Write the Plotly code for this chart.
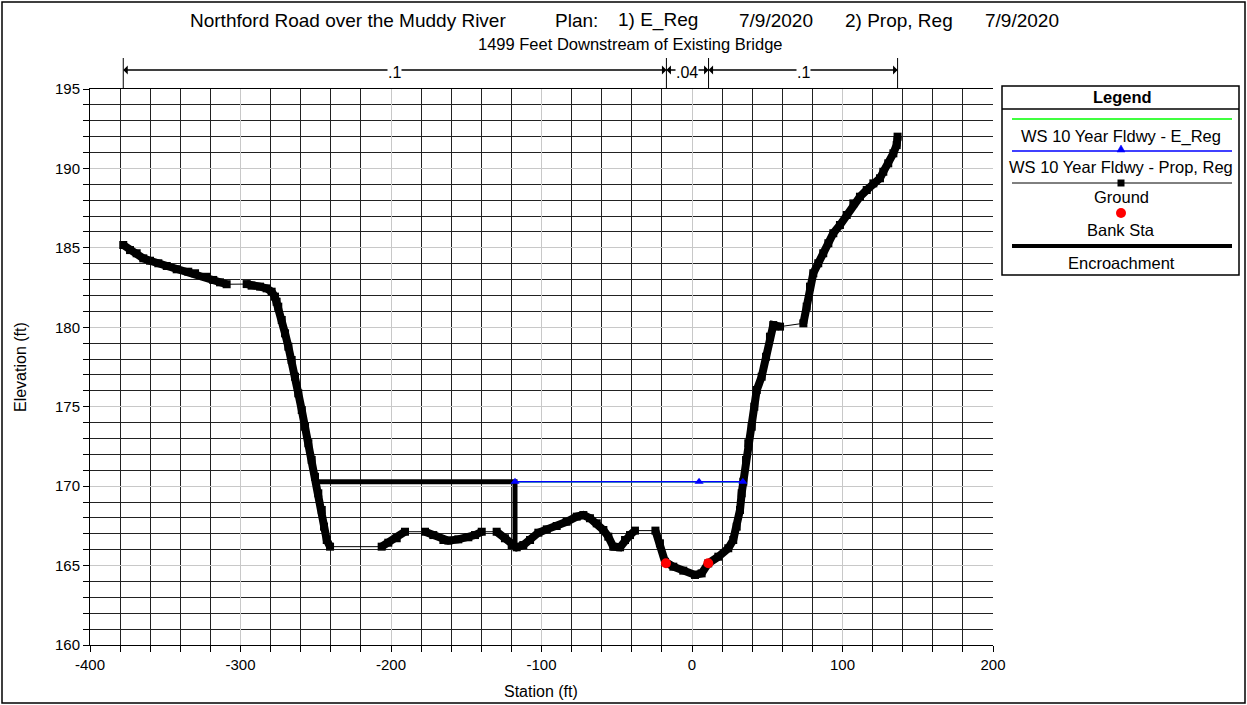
import plotly.graph_objects as go

# ---------------- data ----------------
ground_sta = [-377.9, -373.4, -369.0, -364.6, -360.1, -354.6, -349.0, -342.4, -334.7, -330.2,
              -322.5, -318.1, -313.6, -309.2, -295.9, -292.6, -287.0, -282.6, -279.3, -277.1,
              -276.0, -274.9, -272.6, -270.4, -268.2, -266.0, -263.8, -261.6, -259.3, -257.1,
              -254.9, -252.7, -250.5, -248.3, -246.0, -244.5, -242.7, -240.5, -206.2, -201.8,
              -196.2, -190.7, -177.4, -171.9, -165.2, -161.9, -155.3, -148.6, -144.2, -139.7,
              -129.8, -124.3, -119.8, -116.5, -112.1, -107.6, -102.1, -96.5, -89.9, -83.3,
              -76.6, -72.2, -67.8, -63.3, -58.9, -55.6, -52.3, -47.8, -44.5, -41.2,
              -37.9, -24.3, -21.3, -17.9, -12.4, -5.8, 2.0, 6.4, 10.8, 17.5,
              24.1, 27.4, 29.7, 31.9, 33.0, 34.1, 35.9, 37.4, 39.7, 41.4,
              43.0, 46.3, 49.2, 51.8, 54.0, 58.5, 74.0, 76.2, 78.4, 80.6,
              83.9, 87.2, 90.6, 93.9, 98.3, 102.8, 107.2, 111.6, 116.1, 120.5,
              124.9, 127.1, 130.4, 133.8, 136.0, 136.6]
ground_elev = [185.18, 184.86, 184.66, 184.34, 184.19, 184.03, 183.86, 183.65, 183.50, 183.40,
               183.18, 182.98, 182.83, 182.71, 182.72, 182.62, 182.56, 182.45, 182.24, 181.93,
               181.61, 181.30, 180.46, 179.62, 178.78, 177.94, 176.89, 175.84, 174.79, 173.74,
               172.70, 171.65, 170.59, 169.55, 168.50, 167.45, 166.61, 166.19, 166.19, 166.44,
               166.72, 167.13, 167.13, 166.92, 166.61, 166.57, 166.65, 166.78, 166.92, 167.13,
               167.13, 166.72, 166.29, 166.15, 166.29, 166.61, 167.07, 167.28, 167.49, 167.76,
               168.08, 168.18, 167.98, 167.66, 167.24, 166.82, 166.19, 166.15, 166.61, 166.92,
               167.20, 167.20, 166.40, 165.24, 164.93, 164.68, 164.41, 164.51, 165.14, 165.56,
               166.09, 166.61, 167.45, 168.50, 169.55, 170.28, 171.65, 172.70, 173.74, 175.00,
               176.05, 176.89, 178.15, 179.41, 180.14, 180.04, 180.25, 181.30, 182.56, 183.40,
               184.03, 184.66, 185.29, 185.92, 186.44, 187.07, 187.80, 188.22, 188.64, 189.06,
               189.38, 189.79, 190.32, 190.95, 191.47, 192.00]

ws_elev = 170.27
ws_eReg_sta = [-117.6, 4.7, 33.8]
ws_prop_sta = [-117.6, 4.7, 33.8]

encr_left_ground_sta = -248.3
encr_left_sta = -117.6
encr_ground_elev = 166.2

bank_sta = [-17.3, 10.8]
bank_elev = [165.15, 165.15]

n_break_sta = [-377.9, -17.0, 11.0, 136.6]
n_values = [".1", ".04", ".1"]

x_range = [-400, 200]
y_range = [160, 195]
x_tickvals = [-400, -300, -200, -100, 0, 100, 200]
x_ticktext = ["-400", "-300", "-200", "-100", "0", "100", "200"]

title_parts = ["Northford Road over the Muddy River", "Plan:", "1) E_Reg", "7/9/2020",
               "2) Prop, Reg", "7/9/2020"]
subtitle = "1499 Feet Downstream of Existing Bridge"
legend_labels = ["WS 10 Year Fldwy - E_Reg", "WS 10 Year Fldwy - Prop, Reg", "Ground",
                 "Bank Sta", "Encroachment"]

# ---------------- layout geometry ----------------
W, H = 1247, 705
PL, PR, PT, PB = 90, 993, 89, 645
FONT = "Liberation Sans, Arial, sans-serif"


def px(x):
    return x / W


def py(y):
    return 1 - y / H


fig = go.Figure()

# WS E_Reg (green, hidden under blue)
fig.add_trace(go.Scatter(x=ws_eReg_sta, y=[ws_elev] * len(ws_eReg_sta), mode="lines",
                         line=dict(color="#00ff00", width=1.5), showlegend=False))

# Encroachment
fig.add_trace(go.Scatter(x=[encr_left_ground_sta, encr_left_sta, encr_left_sta],
                         y=[ws_elev, ws_elev, encr_ground_elev], mode="lines",
                         line=dict(color="black", width=5), showlegend=False))

# Ground: thin connecting line
fig.add_trace(go.Scatter(x=ground_sta, y=ground_elev, mode="lines",
                         line=dict(color="black", width=1), showlegend=False))
# Ground: thick where points are dense
thick_x, thick_y = [], []
for i in range(len(ground_sta)):
    if i > 0 and abs(ground_sta[i] - ground_sta[i - 1]) > 8:
        thick_x.append(None)
        thick_y.append(None)
    thick_x.append(ground_sta[i])
    thick_y.append(ground_elev[i])
fig.add_trace(go.Scatter(x=thick_x, y=thick_y, mode="lines", connectgaps=False,
                         line=dict(color="black", width=8), showlegend=False))
fig.add_trace(go.Scatter(x=ground_sta, y=ground_elev, mode="markers",
                         marker=dict(symbol="square", size=8, color="black"),
                         showlegend=False))

# WS Prop, Reg (blue)
fig.add_trace(go.Scatter(x=ws_prop_sta, y=[ws_elev] * len(ws_prop_sta), mode="lines+markers",
                         line=dict(color="#0000ff", width=1.5),
                         marker=dict(symbol="triangle-up", size=8, color="#0000ff"),
                         showlegend=False))

# Bank stations
fig.add_trace(go.Scatter(x=bank_sta, y=bank_elev, mode="markers",
                         marker=dict(symbol="circle", size=10, color="#ff0000"),
                         showlegend=False))

fig.update_xaxes(range=x_range, domain=[px(PL), px(PR)], tickmode="array",
                 tickvals=x_tickvals, ticktext=x_ticktext,
                 showgrid=True, gridcolor="#c8c8c8", gridwidth=1,
                 ticks="outside", ticklen=6, tickcolor="black",
                 minor=dict(tick0=0, dtick=20, showgrid=True, gridcolor="#222222", gridwidth=1,
                            ticks="outside", ticklen=6, tickcolor="black"),
                 showline=True, linecolor="black", linewidth=1, mirror=True, zeroline=False,
                 tickfont=dict(family=FONT, size=15, color="black"))
fig.update_yaxes(range=y_range, domain=[py(PB), py(PT)], tickmode="linear", tick0=160, dtick=5,
                 showgrid=True, gridcolor="#c8c8c8", gridwidth=1,
                 ticks="outside", ticklen=6, tickcolor="black",
                 minor=dict(tick0=160, dtick=1, showgrid=True, gridcolor="#222222", gridwidth=1,
                            ticks="outside", ticklen=6, tickcolor="black"),
                 showline=True, linecolor="black", linewidth=1, mirror=False, zeroline=False,
                 tickfont=dict(family=FONT, size=15, color="black"))

shapes = []
annotations = []

# outer frame
shapes.append(dict(type="rect", xref="paper", yref="paper", x0=px(2), x1=px(1245), y0=py(703),
                   y1=py(2), line=dict(color="black", width=1.5)))

# titles
title_x = [188, 553, 616, 737, 843, 983]
for t, xx in zip(title_parts, title_x):
    annotations.append(dict(text=t, xref="paper", yref="paper", x=px(xx), y=py(20),
                            xanchor="left", yanchor="middle", showarrow=False,
                            font=dict(family=FONT, size=19, color="black")))
annotations.append(dict(text=subtitle, xref="paper", yref="paper", x=px(630), y=py(44),
                        xanchor="center", yanchor="middle", showarrow=False,
                        font=dict(family=FONT, size=16.5, color="black")))

# axis titles
annotations.append(dict(text="Elevation (ft)", xref="paper", yref="paper", x=px(20), y=py(367),
                        xanchor="center", yanchor="middle", textangle=-90, showarrow=False,
                        font=dict(family=FONT, size=16, color="black")))
annotations.append(dict(text="Station (ft)", xref="paper", yref="paper", x=px(541), y=py(691),
                        xanchor="center", yanchor="middle", showarrow=False,
                        font=dict(family=FONT, size=16, color="black")))

# Manning's n breaks
NY = 70
for s in n_break_sta:
    shapes.append(dict(type="line", xref="x", yref="paper", x0=s, x1=s, y0=py(58), y1=py(PT),
                       line=dict(color="black", width=1)))
for i, lab in enumerate(n_values):
    a, b = n_break_sta[i], n_break_sta[i + 1]
    c = (a + b) / 2
    for end in (a, b):
        annotations.append(dict(text="", x=end, y=py(NY), xref="x", yref="paper",
                                ax=c, ay=0, axref="x", ayref="pixel", showarrow=True,
                                arrowhead=1, arrowsize=1, arrowwidth=1.5, arrowcolor="black",
                                standoff=0, startstandoff=0))
    annotations.append(dict(text=lab, x=c, y=py(NY + 2), xref="x", yref="paper", showarrow=False,
                            bgcolor="white", borderpad=0, xanchor="center", yanchor="middle",
                            font=dict(family=FONT, size=16, color="black")))

# legend box
LX0, LX1, LY0, LY1 = 1002, 1239, 86, 275
shapes.append(dict(type="rect", xref="paper", yref="paper", x0=px(LX0), x1=px(LX1), y0=py(LY1),
                   y1=py(LY0), line=dict(color="black", width=1.5), fillcolor="white"))
shapes.append(dict(type="line", xref="paper", yref="paper", x0=px(LX0), x1=px(LX1), y0=py(109),
                   y1=py(109), line=dict(color="black", width=1.5)))
annotations.append(dict(text="<b>Legend</b>", xref="paper", yref="paper", x=px(1122), y=py(97),
                        showarrow=False, xanchor="center", yanchor="middle",
                        font=dict(family=FONT, size=16.5, color="black")))
SX0, SX1, SC = 1012, 1232, 1121
shapes.append(dict(type="line", xref="paper", yref="paper", x0=px(SX0), x1=px(SX1), y0=py(119),
                   y1=py(119), line=dict(color="#00ff00", width=1.5)))
shapes.append(dict(type="line", xref="paper", yref="paper", x0=px(SX0), x1=px(SX1), y0=py(151),
                   y1=py(151), line=dict(color="#0000ff", width=1.5)))
shapes.append(dict(type="path", xref="paper", yref="paper",
                   path=f"M {px(SC-4)},{py(152)} L {px(SC+4)},{py(152)} L {px(SC)},{py(145)} Z",
                   fillcolor="#0000ff", line=dict(color="#0000ff", width=0.5)))
shapes.append(dict(type="line", xref="paper", yref="paper", x0=px(SX0), x1=px(SX1), y0=py(183),
                   y1=py(183), line=dict(color="black", width=1)))
shapes.append(dict(type="rect", xref="paper", yref="paper", x0=px(SC-3.5), x1=px(SC+3.5),
                   y0=py(186.5), y1=py(179.5), fillcolor="black", line=dict(width=0)))
shapes.append(dict(type="circle", xref="paper", yref="paper", x0=px(SC-5), x1=px(SC+5),
                   y0=py(218), y1=py(208), fillcolor="#ff0000", line=dict(width=0)))
shapes.append(dict(type="line", xref="paper", yref="paper", x0=px(SX0), x1=px(SX1), y0=py(246),
                   y1=py(246), line=dict(color="black", width=4)))
leg_y = [136, 167, 197, 230, 263]
for lab, yy in zip(legend_labels, leg_y):
    annotations.append(dict(text=lab, xref="paper", yref="paper", x=px(SC), y=py(yy),
                            showarrow=False, xanchor="center", yanchor="middle",
                            font=dict(family=FONT, size=16.5, color="black")))

fig.update_layout(width=W, height=H,
                  margin=dict(l=0, r=0, t=0, b=0, pad=0, autoexpand=False),
                  paper_bgcolor="white", plot_bgcolor="white", showlegend=False,
                  shapes=shapes, annotations=annotations,
                  font=dict(family=FONT, color="black"))

fig.write_html("out.html")
